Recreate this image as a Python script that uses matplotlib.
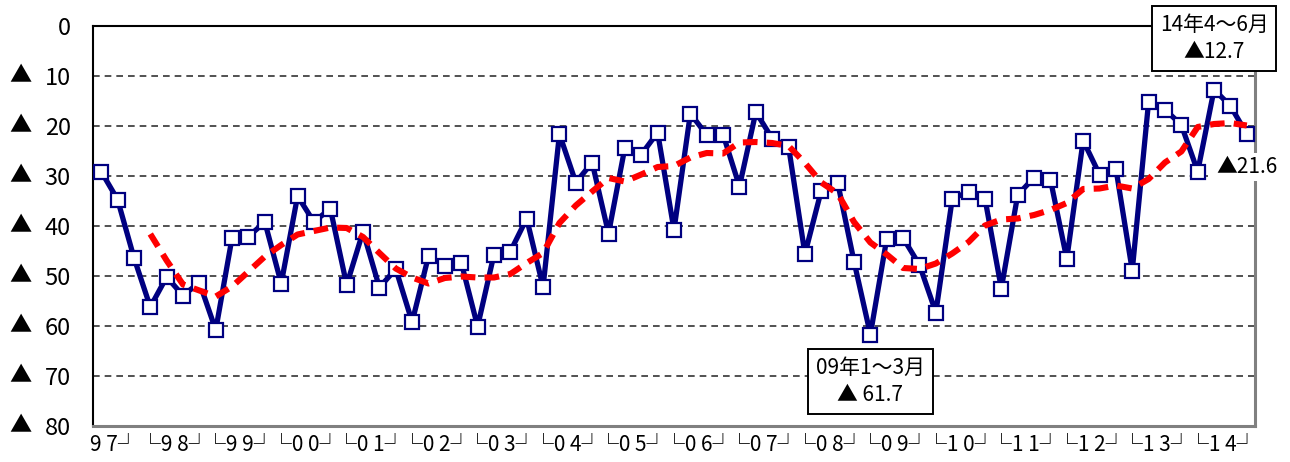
import matplotlib
matplotlib.use("Agg")
import matplotlib.pyplot as plt
from matplotlib.transforms import blended_transform_factory

plt.rcParams["font.family"] = ["Noto Sans CJK JP", "DejaVu Sans"]

# 四半期 DI（97年4～6月 ～ 14年10～12月）
di = [29.1, 34.7, 46.3, 56.2, 50.2, 53.9, 51.3, 60.8, 42.3, 42.1,
      39.2, 51.5, 34.0, 39.2, 36.5, 51.8, 41.1, 52.3, 48.6, 59.2,
      46.0, 47.9, 47.3, 60.1, 45.7, 45.1, 38.5, 52.2, 21.6, 31.3,
      27.3, 41.5, 24.3, 25.7, 21.3, 40.8, 17.5, 21.8, 21.7, 32.1,
      17.2, 22.5, 24.1, 45.6, 32.9, 31.3, 47.1, 61.7, 42.5, 42.4,
      47.8, 57.3, 34.6, 33.1, 34.5, 52.5, 33.8, 30.3, 30.7, 46.6,
      22.9, 29.7, 28.5, 48.9, 15.1, 16.7, 19.8, 29.1, 12.7, 16.0,
      21.6]

# 移動平均（赤点線、98年1～3月から）
trend = [41.6, 46.9, 51.7, 52.9, 54.1, 52.1, 49.1, 46.1, 43.8, 41.7,
         41.0, 40.3, 40.4, 42.2, 45.4, 48.5, 50.3, 51.5, 50.4, 50.1,
         50.3, 50.3, 49.6, 47.4, 45.4, 39.4, 35.9, 33.1, 30.4, 31.1,
         29.7, 28.2, 28.0, 26.3, 25.4, 25.5, 23.3, 23.2, 23.4, 24.0,
         27.4, 31.3, 33.5, 39.2, 43.3, 45.7, 48.4, 48.6, 47.5, 45.5,
         43.2, 39.9, 38.7, 38.5, 37.8, 36.8, 35.4, 32.6, 32.5, 31.9,
         32.5, 30.6, 27.3, 25.1, 20.2, 19.6, 19.4, 19.9]
trend_start = 3

year_labels = ["9 7┘", "└9 8┘", "└9 9┘", "└0 0┘", "└0 1┘", "└0 2┘",
               "└0 3┘", "└0 4┘", "└0 5┘", "└0 6┘", "└0 7┘", "└0 8┘",
               "└0 9┘", "└1 0┘", "└1 1┘", "└1 2┘", "└1 3┘", "└1 4┘"]

y_ticks = [0, 10, 20, 30, 40, 50, 60, 70, 80]

notes = [
    (68, "14年4～6月\n▲12.7", -51, True),
    (47, "09年1～3月\n▲ 61.7", 47, True),
    (70, "▲21.6", 33, False),
]

fig = plt.figure(figsize=(12.9, 4.62), dpi=100)
ax = fig.add_axes([93 / 1290, 1 - 426 / 462, 1162 / 1290, 400 / 462])

x = list(range(len(di)))
ax.plot(x, di, color="#000080", lw=3.8, marker="s", ms=10,
        mfc="white", mec="#000080", mew=1.6, zorder=4)
ax.plot(x[trend_start:], trend, color="#ff0000", lw=4.4,
        linestyle=(0, (2.4, 1.5)), zorder=5)

ax.set_xlim(-0.5, len(di) - 0.5)
ax.set_ylim(80, 0)

ax.set_yticks(y_ticks)
ax.set_yticklabels([str(v) for v in y_ticks], fontsize=17)
ax.tick_params(axis="y", length=0, pad=16)
ax.yaxis.grid(True, linestyle=(0, (4, 3)), color="#333333", lw=1.2)

trans = blended_transform_factory(fig.transFigure, ax.transData)
for v in y_ticks[1:]:
    ax.text(20 / 1290, v, "▲", transform=trans, ha="center", va="center",
            fontsize=16, clip_on=False)

# 年ラベル（各年の中央、97年は4～6月から）
pos = [0.8] + [3 + 4 * (i - 1) + 1.5 for i in range(1, len(year_labels))]
ax.set_xticks(pos)
ax.set_xticklabels(year_labels, fontsize=15)
ax.tick_params(axis="x", length=0, pad=6)

for side in ("top", "left"):
    ax.spines[side].set_color("black")
    ax.spines[side].set_linewidth(1.5)
for side in ("right", "bottom"):
    ax.spines[side].set_color("#808080")
    ax.spines[side].set_linewidth(2.2)

for idx, txt, dy, boxed in notes:
    bbox = dict(boxstyle="square,pad=0.38", fc="white", ec="black", lw=1.4) if boxed \
        else dict(boxstyle="square,pad=0.15", fc="white", ec="none")
    ax.annotate(txt, xy=(idx, di[idx]), xytext=(0, -dy), textcoords="offset pixels",
                ha="center", va="center", fontsize=15, linespacing=1.3,
                bbox=bbox, annotation_clip=False, zorder=6)

fig.savefig("out.png", dpi=100)
